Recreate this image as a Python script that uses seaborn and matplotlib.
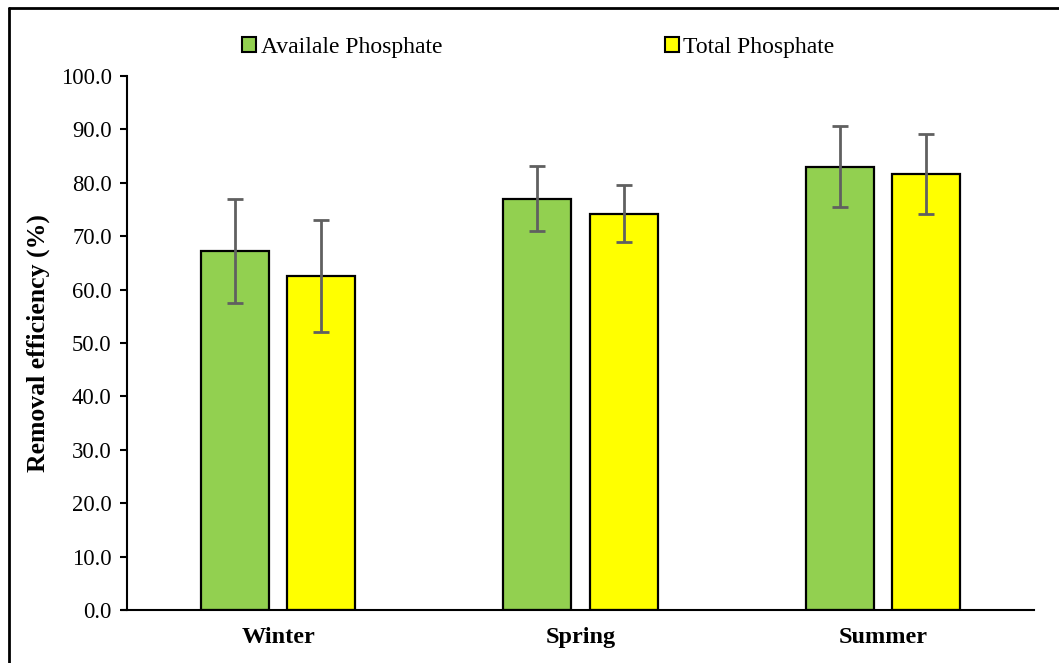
import matplotlib
matplotlib.use("Agg")
import matplotlib.pyplot as plt
from matplotlib.patches import Rectangle
from matplotlib.lines import Line2D
import seaborn as sns
import pandas as pd
import numpy as np

seasons = ["Winter", "Spring", "Summer"]
series = ["Availale Phosphate", "Total Phosphate"]
available = [67.2, 77.0, 83.0]
total = [62.5, 74.2, 81.7]
available_err = [9.8, 6.1, 7.6]
total_err = [10.5, 5.3, 7.5]
yticks = [0, 10, 20, 30, 40, 50, 60, 70, 80, 90, 100]
colors = ["#92D050", "#FFFF00"]

sns.set_theme(style="white")
plt.rcParams["font.family"] = ["Liberation Serif", "DejaVu Serif"]
plt.rcParams["text.color"] = "black"
plt.rcParams["axes.labelcolor"] = "black"
plt.rcParams["xtick.color"] = "black"
plt.rcParams["ytick.color"] = "black"

df = pd.DataFrame({
    "season": seasons * 2,
    "series": [series[0]] * 3 + [series[1]] * 3,
    "value": available + total,
    "err": available_err + total_err,
})

fig = plt.figure(figsize=(10.59, 6.63), dpi=100)
ax = fig.add_axes([0.1199, 0.0799, 0.8565, 0.8055])

sns.barplot(data=df, x="season", y="value", hue="series", order=seasons,
            hue_order=series, palette=colors, saturation=1, width=0.57, gap=0.21,
            edgecolor="black", linewidth=1.6, errorbar=None, legend=False, ax=ax)

# error bars centred on each drawn bar
for i, name in enumerate(series):
    sub = df[df["series"] == name].set_index("season").loc[seasons]
    bars = ax.containers[i]
    xs = [b.get_x() + b.get_width() / 2 for b in bars]
    ax.errorbar(xs, sub["value"], yerr=sub["err"], fmt="none",
                ecolor="#606060", elinewidth=2, capsize=6, capthick=2, zorder=5)

ax.set_xlim(-0.5, 2.5)
ax.set_ylim(0, 100)
ax.set_yticks(yticks)
ax.set_yticklabels([f"{t:.1f}" for t in yticks], fontsize=16.3)
ax.tick_params(axis="y", direction="out", length=5, width=1.5, color="black",
               left=True, pad=6)
ax.tick_params(axis="x", length=0, pad=12)
for lab in ax.get_xticklabels():
    lab.set_fontweight("bold")
    lab.set_fontsize(17.5)
ax.set_xlabel("")
ax.set_ylabel("Removal efficiency (%)", fontsize=18.5, fontweight="bold", labelpad=8)

for s in ["top", "right"]:
    ax.spines[s].set_visible(False)
ax.spines["left"].set_color("black")
ax.spines["left"].set_linewidth(1.5)
ax.spines["bottom"].set_color("black")
ax.spines["bottom"].set_linewidth(1.5)
ax.spines["bottom"].set_bounds(-0.517, 2.5)

handles = [Rectangle((0, 0), 1, 1, facecolor=c, edgecolor="black", linewidth=1.5)
           for c in colors]
fig.legend(handles, series, loc="center", bbox_to_anchor=(0.5085, 0.929), ncol=2,
           frameon=False, fontsize=17, handlelength=0.6, handleheight=0.6,
           handletextpad=0.2, columnspacing=9.4)

# outer frame (left and top edges)
fig.add_artist(Line2D([0.0085, 0.0085], [0, 0.988], transform=fig.transFigure,
                      color="black", linewidth=2))
fig.add_artist(Line2D([0.0085, 1.0], [0.988, 0.988], transform=fig.transFigure,
                      color="black", linewidth=2))

fig.savefig("out.png", dpi=100)
